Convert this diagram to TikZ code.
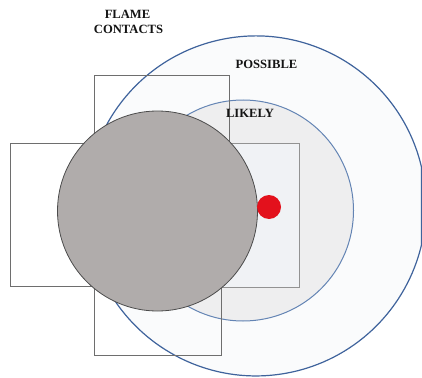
\documentclass[tikz,border=0pt]{standalone}
\usepackage{fontspec}
\setmainfont{Liberation Serif}
\definecolor{zoneblue}{HTML}{3F639C}
\definecolor{zoneblueL}{HTML}{6384B4}
\definecolor{possiblefill}{HTML}{FAFBFC}
\definecolor{likelyfill}{HTML}{EEEEEF}
\definecolor{panelfill}{HTML}{F0F2F5}
\definecolor{burnergray}{HTML}{B0ACAB}
\definecolor{edgegray}{HTML}{6E6E6E}
\definecolor{flamered}{HTML}{E3111C}
\tikzset{
  zonelabel/.style={font=\bfseries\fontsize{12.6}{15.5}\selectfont, anchor=base, inner sep=0pt, text=black!92},
  panel/.style={draw=edgegray, line width=0.9pt},
}
\begin{document}
\begin{tikzpicture}[x=1pt, y=-1pt]
  \useasboundingbox (0,0) rectangle (422,377);
  % outer zone: circle centred at (256,206), radius 170, flattened at the right border
  \coordinate (possibleTop) at (421.5,167.1);
  \fill[possiblefill, draw=zoneblue, line width=1.2pt]
    (possibleTop) arc[start angle=13.2, end angle=346.8, radius=170pt] -- cycle;
  % inner zone
  \fill[likelyfill, draw=zoneblueL, line width=1pt] (243,210.5) circle[radius=110.5pt];
  % panels in contact with the flame
  \draw[panel, draw=edgegray!75, fill=panelfill] (200,143) rectangle (299,287);
  \draw[panel] (10,143) rectangle (120,286);
  \draw[panel] (94,75) rectangle (229,143);
  \draw[panel] (94,286) rectangle (221,355);
  % burner and ignition point
  \fill[burnergray, draw=black!70, line width=0.8pt] (157.5,211) circle[radius=100pt];
  \fill[flamered] (269,207) circle[radius=12pt];
  % labels
  \node[zonelabel] (flame) at (127.5,18.5) {FLAME};
  \node[zonelabel] (contacts) at (128.5,34) {CONTACTS};
  \node[zonelabel] (possible) at (266.5,69) {POSSIBLE};
  \node[zonelabel] (likely) at (250,117.5) {LIKELY};
\end{tikzpicture}
\end{document}
